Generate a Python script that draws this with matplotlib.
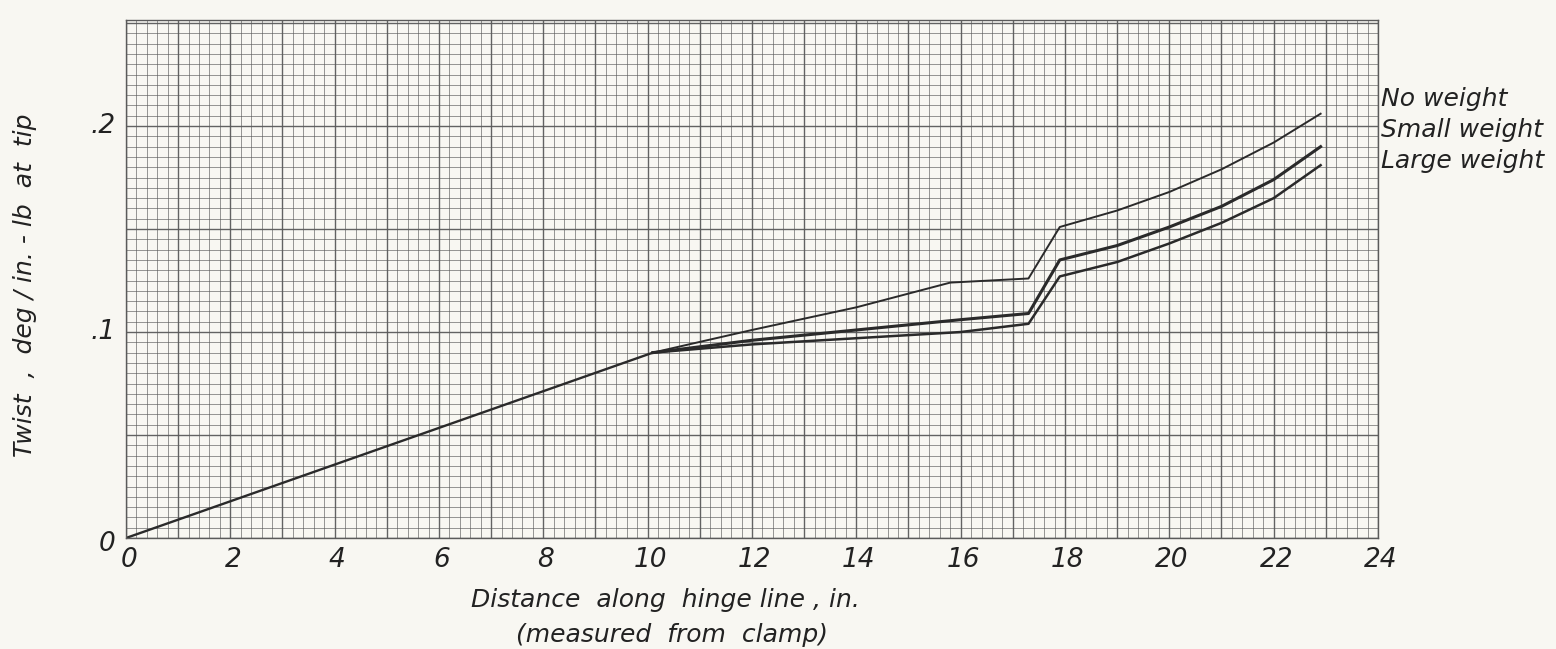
import numpy as np
import matplotlib
matplotlib.use("Agg")
import matplotlib.pyplot as plt
from matplotlib.ticker import MultipleLocator

# Twist per unit torque along the hinge line for three tip-weight cases
x_common = [0.0, 10.1]
y_common = [0.0, 0.090]

x_no = [10.1, 12.0, 14.0, 15.8, 17.3, 17.9, 19.0, 20.0, 21.0, 22.0, 22.9]
y_no = [0.090, 0.101, 0.112, 0.124, 0.126, 0.151, 0.159, 0.168, 0.179, 0.192, 0.206]

x_small = [10.1, 12.0, 14.0, 16.0, 17.3, 17.9, 19.0, 20.0, 21.0, 22.0, 22.9]
y_small = [0.090, 0.096, 0.101, 0.106, 0.109, 0.135, 0.142, 0.151, 0.161, 0.174, 0.190]

x_large = [10.1, 12.0, 14.0, 16.0, 17.3, 17.9, 19.0, 20.0, 21.0, 22.0, 22.9]
y_large = [0.090, 0.094, 0.097, 0.100, 0.104, 0.127, 0.134, 0.143, 0.153, 0.165, 0.181]

series_labels = ["No weight", "Small weight", "Large weight"]
x_ticks = list(range(0, 25, 2))
y_ticks = [0.0, 0.1, 0.2]
y_tick_labels = ["0", ".1", ".2"]

paper = "#f8f7f2"
ink = "#2a2a2a"
grid_ink = "#5a5a5a"

fig = plt.figure(figsize=(15.56, 6.49), dpi=100, facecolor=paper)
ax = fig.add_axes([126 / 1556, 111 / 649, (1378 - 126) / 1556, (538 - 20) / 649])
ax.set_facecolor(paper)
ax.set_xlim(0, 24)
ax.set_ylim(0, 0.2515)

# graph-paper ruling
ax.xaxis.set_minor_locator(MultipleLocator(0.2))
ax.yaxis.set_minor_locator(MultipleLocator(0.005))
ax.xaxis.set_major_locator(MultipleLocator(1))
ax.yaxis.set_major_locator(MultipleLocator(0.05))
ax.grid(which="minor", color=grid_ink, linewidth=0.55, alpha=0.8)
ax.grid(which="major", color=grid_ink, linewidth=1.0, alpha=0.95)
ax.set_axisbelow(True)
ax.tick_params(which="both", length=0, labelbottom=False, labelleft=False)
for s in ax.spines.values():
    s.set_color(grid_ink)
    s.set_linewidth(1.0)

ax.plot(x_common, y_common, color=ink, lw=1.7, solid_capstyle="round")
ax.plot(x_no, y_no, color=ink, lw=1.4)
ax.plot(x_small, y_small, color=ink, lw=2.2)
ax.plot(x_large, y_large, color=ink, lw=1.8)

font = dict(family="DejaVu Sans", style="italic", color="#222222")

for xv in x_ticks:
    ax.text(xv + 0.05, -0.0045, str(xv), ha="center", va="top", fontsize=19, **font)
for yv, lab in zip(y_ticks, y_tick_labels):
    dy = 0.003 if yv == 0 else 0.0
    ax.text(-0.2, yv - dy, lab, ha="right", va="center", fontsize=19, **font)

fig.text(665 / 1556, 1 - 600 / 649, "Distance  along  hinge line , in.",
         ha="center", va="center", fontsize=18, **font)
fig.text(672 / 1556, 1 - 635 / 649, "(measured  from  clamp)",
         ha="center", va="center", fontsize=18, **font)
fig.text(25 / 1556, 1 - 285 / 649, "Twist  ,  deg / in. - lb  at  tip", rotation=90,
         ha="center", va="center", fontsize=18, **font)

for i, lab in enumerate(series_labels):
    fig.text(1381 / 1556, 1 - (99 + 31 * i) / 649, lab, ha="left", va="center",
             fontsize=18, **font)

fig.savefig("out.png", dpi=100, facecolor=paper)
